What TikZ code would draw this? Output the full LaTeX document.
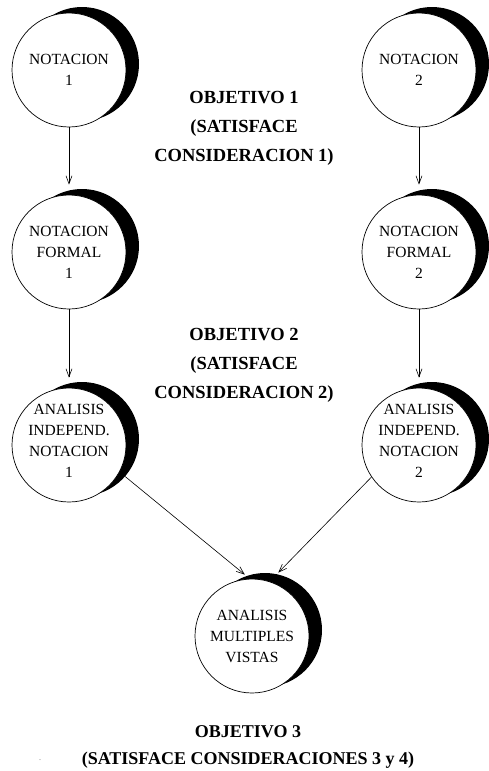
\documentclass[tikz,border=0pt]{standalone}
\usepackage{fontspec}
\setmainfont{Liberation Serif}
\usetikzlibrary{arrows.meta}
\tikzset{
  crescent/.style={circle, fill=black, minimum size=114pt, inner sep=0pt},
  disc/.style={circle, draw=black, fill=white, line width=0.7pt, minimum size=114pt, inner sep=0pt},
  txt/.style={font=\fontsize{15.5}{21}\selectfont, align=center, inner sep=0pt},
  lbl/.style={font=\bfseries\fontsize{18.5}{29}\selectfont, align=center, inner sep=0pt},
  arr/.style={-{Straight Barb[length=8pt,width=6pt]}, line width=0.6pt}
}
\begin{document}
\begin{tikzpicture}[x=1pt,y=-1pt]
\useasboundingbox (0,0) rectangle (488,771);
% row 1
\node[crescent] (n1s) at (82,64) {};
\node[disc] (n1) at (69,70) {};
\node[txt] (n1t) at (69,70) {NOTACION\\1};
\node[crescent] (n2s) at (432,64) {};
\node[disc] (n2) at (419,70) {};
\node[txt] (n2t) at (419,70) {NOTACION\\2};
% row 2
\node[crescent] (f1s) at (82,246) {};
\node[disc] (f1) at (69,252) {};
\node[txt] (f1t) at (69,252) {NOTACION\\FORMAL\\1};
\node[crescent] (f2s) at (432,246) {};
\node[disc] (f2) at (419,252) {};
\node[txt] (f2t) at (419,252) {NOTACION\\FORMAL\\2};
% row 3
\node[crescent] (a1s) at (82,439) {};
\node[disc] (a1) at (69,445) {};
\node[txt] (a1t) at (69,441) {ANALISIS\\INDEPEND.\\NOTACION\\1};
\node[crescent] (a2s) at (432,439) {};
\node[disc] (a2) at (419,445) {};
\node[txt] (a2t) at (419,441) {ANALISIS\\INDEPEND.\\NOTACION\\2};
% bottom
\node[crescent] (ms) at (265,630) {};
\node[disc] (m) at (252,636) {};
\node[txt] (mt) at (252,636) {ANALISIS\\MULTIPLES\\VISTAS};
% labels
\node[lbl] (o1) at (244,128.5) {OBJETIVO 1\\(SATISFACE\\CONSIDERACION 1)};
\node[lbl] (o2) at (244,365.5) {OBJETIVO 2\\(SATISFACE\\CONSIDERACION 2)};
\node[lbl, font=\bfseries\fontsize{18}{27}\selectfont] (o3) at (248,746.5) {OBJETIVO 3\\(SATISFACE CONSIDERACIONES 3 y 4)};
\node[font=\fontsize{6}{6}\selectfont, inner sep=0pt] (dot) at (40,760) {.};
% connectors
\draw[arr] (n1.south) -- ([yshift=10pt]f1.north);
\draw[arr] (n2.south) -- ([yshift=10pt]f2.north);
\draw[arr] (f1.south) -- ([yshift=10pt]a1.north);
\draw[arr] (f2.south) -- ([yshift=10pt]a2.north);
\draw[arr, shorten >=2pt] (a1s.-41) -- (ms.109);
\draw[arr, shorten >=2pt] (a2.-146) -- (ms.78);
\end{tikzpicture}
\end{document}
